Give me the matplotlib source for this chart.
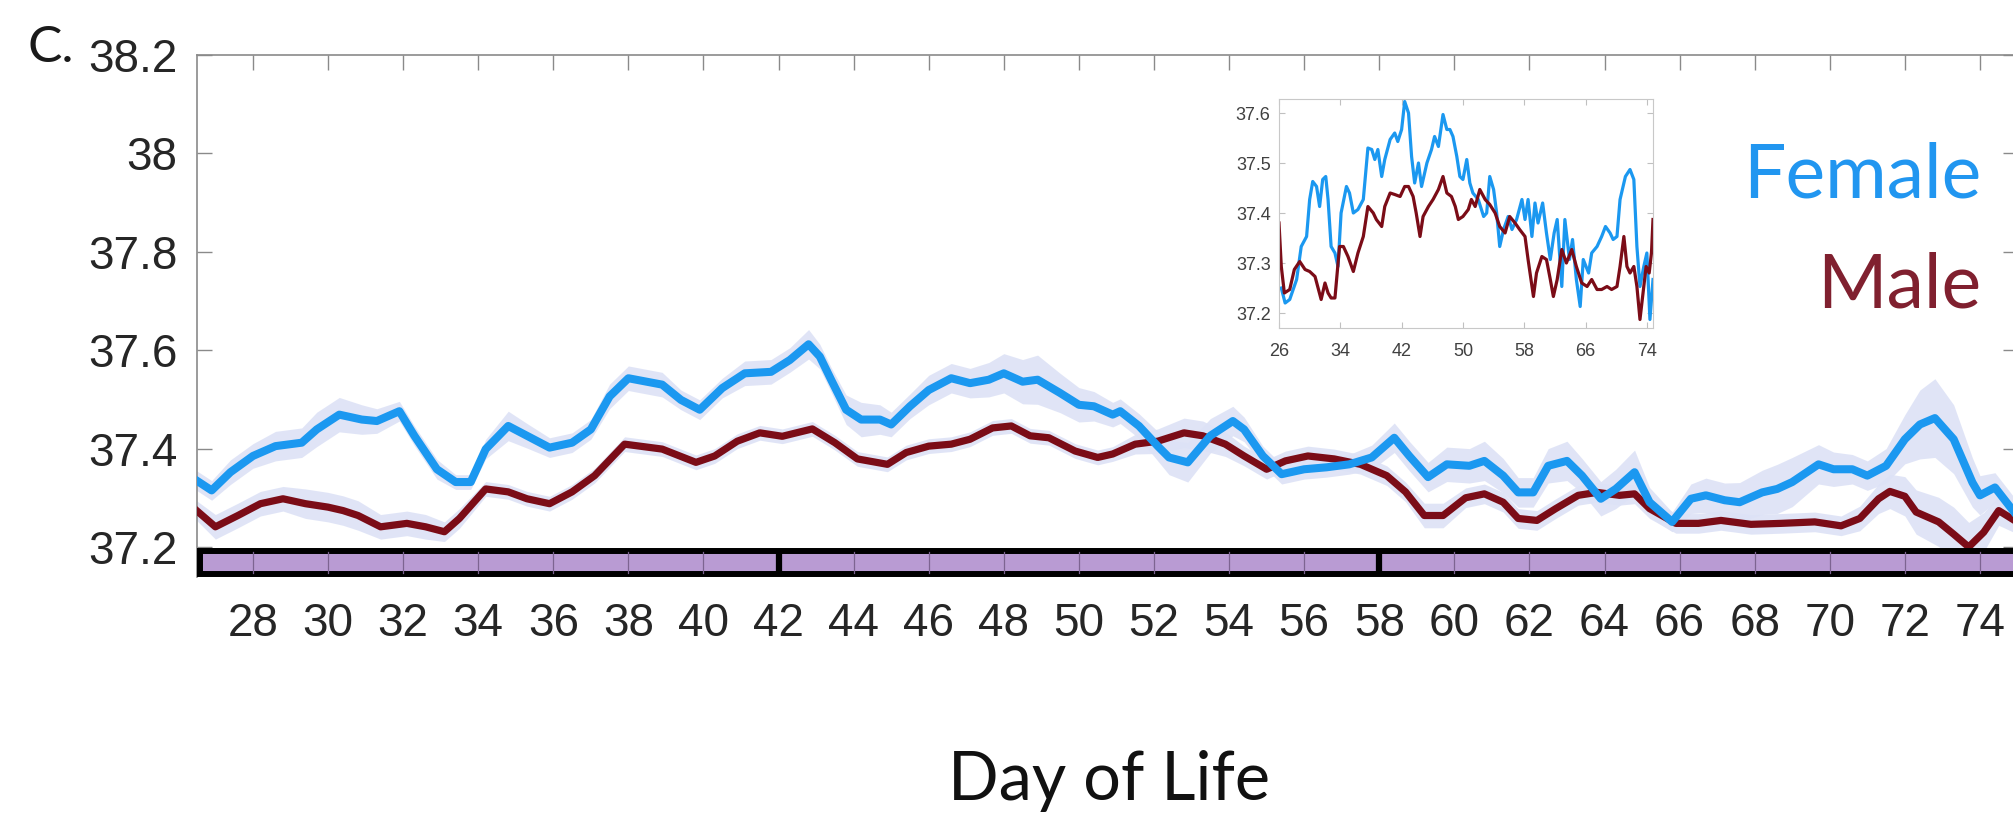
"""
Panel C: core body temperature by day of life, female vs male.
Main plot = smoothed daily means with SEM band, inset = raw (less smoothed) traces.
"""

import matplotlib
matplotlib.use("Agg")
import matplotlib.pyplot as plt
import numpy as np
from matplotlib.patches import Rectangle

# ---- smoothed main traces (day of life, deg C, sem) ----
female_day = [26.5, 26.9, 27.4, 28.0, 28.6, 29.3, 29.7, 30.3, 30.9, 31.3,
              31.9, 32.3, 32.9, 33.4, 33.8, 34.2, 34.8, 35.3, 35.9, 36.5,
              37.0, 37.5, 38.0, 38.9, 39.4, 39.9, 40.5, 41.1, 41.8, 42.3,
              42.8, 43.1, 43.4, 43.8, 44.2, 44.7, 45.0, 45.5, 46.0, 46.6,
              47.1, 47.6, 48.0, 48.5, 48.9, 49.5, 50.0, 50.4, 50.9, 51.1,
              51.6, 52.1, 52.4, 52.9, 53.5, 54.1, 54.4, 54.9, 55.4, 56.0,
              56.6, 57.2, 57.8, 58.4, 58.8, 59.3, 59.8, 60.4, 60.8, 61.3,
              61.7, 62.1, 62.5, 63.0, 63.4, 63.9, 64.3, 64.8, 65.2, 65.8,
              66.3, 66.7, 67.2, 67.6, 68.2, 68.6, 69.0, 69.7, 70.1, 70.6,
              71.0, 71.5, 72.0, 72.4, 72.8, 73.3, 73.8, 74.0, 74.4, 74.9]
female_temp = [37.335, 37.315, 37.352, 37.385, 37.405, 37.412, 37.439, 37.469, 37.459, 37.456,
               37.476, 37.426, 37.358, 37.332, 37.332, 37.399, 37.446, 37.426, 37.402, 37.412,
               37.439, 37.506, 37.543, 37.530, 37.499, 37.479, 37.523, 37.553, 37.556, 37.580,
               37.612, 37.587, 37.540, 37.479, 37.459, 37.459, 37.449, 37.486, 37.519, 37.543,
               37.533, 37.540, 37.553, 37.536, 37.540, 37.513, 37.489, 37.486, 37.469, 37.476,
               37.446, 37.405, 37.382, 37.372, 37.426, 37.456, 37.439, 37.385, 37.348, 37.358,
               37.362, 37.368, 37.382, 37.422, 37.385, 37.342, 37.368, 37.365, 37.375, 37.345,
               37.311, 37.311, 37.365, 37.375, 37.345, 37.298, 37.318, 37.352, 37.291, 37.251,
               37.298, 37.305, 37.295, 37.291, 37.311, 37.318, 37.332, 37.368, 37.358, 37.358,
               37.345, 37.365, 37.419, 37.449, 37.462, 37.419, 37.331, 37.305, 37.321, 37.272]
female_sem = [0.02, 0.02, 0.025, 0.025, 0.03, 0.03, 0.035, 0.035, 0.03, 0.025,
              0.02, 0.02, 0.02, 0.015, 0.015, 0.02, 0.03, 0.025, 0.02, 0.02,
              0.02, 0.025, 0.025, 0.025, 0.02, 0.02, 0.02, 0.025, 0.025, 0.025,
              0.03, 0.025, 0.025, 0.03, 0.035, 0.03, 0.025, 0.025, 0.03, 0.03,
              0.03, 0.035, 0.04, 0.045, 0.05, 0.04, 0.035, 0.03, 0.025, 0.025,
              0.025, 0.03, 0.035, 0.04, 0.035, 0.03, 0.025, 0.02, 0.02, 0.02,
              0.02, 0.02, 0.025, 0.03, 0.03, 0.03, 0.035, 0.035, 0.04, 0.035,
              0.03, 0.03, 0.035, 0.04, 0.035, 0.035, 0.04, 0.045, 0.03, 0.02,
              0.03, 0.035, 0.035, 0.04, 0.045, 0.05, 0.05, 0.04, 0.035, 0.03,
              0.03, 0.035, 0.05, 0.07, 0.08, 0.07, 0.05, 0.04, 0.03, 0.03]

male_day = [26.5, 27.0, 27.6, 28.2, 28.8, 29.4, 30.0, 30.4, 30.8, 31.4,
            32.1, 32.6, 33.1, 33.5, 34.2, 34.8, 35.3, 35.9, 36.5, 37.1,
            37.9, 38.9, 39.8, 40.3, 40.9, 41.5, 42.1, 42.9, 43.5, 44.1,
            44.9, 45.4, 46.0, 46.6, 47.1, 47.7, 48.2, 48.7, 49.2, 49.9,
            50.5, 50.9, 51.5, 52.1, 52.8, 53.3, 53.9, 54.4, 55.0, 55.5,
            56.1, 56.8, 57.5, 58.2, 58.7, 59.2, 59.7, 60.3, 60.8, 61.3,
            61.7, 62.2, 62.7, 63.3, 63.8, 64.4, 64.8, 65.2, 65.9, 66.5,
            67.1, 67.9, 68.7, 69.6, 70.3, 70.8, 71.3, 71.6, 72.0, 72.3,
            72.9, 73.3, 73.7, 74.1, 74.5, 74.9]
male_temp = [37.274, 37.241, 37.264, 37.288, 37.298, 37.288, 37.281, 37.274, 37.264, 37.241,
             37.248, 37.241, 37.231, 37.258, 37.318, 37.312, 37.298, 37.288, 37.312, 37.345,
             37.409, 37.399, 37.372, 37.385, 37.415, 37.432, 37.425, 37.440, 37.412, 37.379,
             37.368, 37.392, 37.405, 37.409, 37.419, 37.442, 37.446, 37.426, 37.422, 37.395,
             37.382, 37.389, 37.409, 37.415, 37.432, 37.426, 37.409, 37.385, 37.358, 37.375,
             37.385, 37.379, 37.368, 37.345, 37.312, 37.264, 37.264, 37.300, 37.308, 37.291,
             37.258, 37.254, 37.278, 37.305, 37.311, 37.305, 37.308, 37.278, 37.248, 37.248,
             37.254, 37.246, 37.248, 37.251, 37.243, 37.258, 37.298, 37.313, 37.303, 37.271,
             37.251, 37.226, 37.200, 37.230, 37.274, 37.255]
male_sem = [0.02, 0.025, 0.025, 0.025, 0.025, 0.03, 0.03, 0.03, 0.03, 0.025,
            0.025, 0.025, 0.02, 0.02, 0.015, 0.015, 0.015, 0.015, 0.015, 0.015,
            0.015, 0.015, 0.015, 0.015, 0.015, 0.015, 0.015, 0.015, 0.015, 0.015,
            0.015, 0.015, 0.015, 0.015, 0.015, 0.015, 0.015, 0.015, 0.015, 0.015,
            0.015, 0.015, 0.02, 0.025, 0.03, 0.03, 0.025, 0.02, 0.02, 0.02,
            0.02, 0.02, 0.02, 0.02, 0.02, 0.025, 0.025, 0.02, 0.02, 0.02,
            0.02, 0.02, 0.02, 0.02, 0.02, 0.02, 0.02, 0.02, 0.02, 0.02,
            0.02, 0.02, 0.02, 0.02, 0.02, 0.025, 0.03, 0.035, 0.04, 0.045,
            0.05, 0.055, 0.05, 0.04, 0.03, 0.025]

# ---- inset: raw traces ----
inset_female_day = [26.3, 26.8, 27.4, 28.3, 28.9, 29.6, 30.0, 30.4, 30.9, 31.3,
                    31.7, 32.1, 32.4, 32.8, 33.3, 33.7, 34.1, 34.8, 35.2, 35.7,
                    36.3, 37.0, 37.6, 38.1, 38.5, 38.9, 39.4, 39.8, 40.5, 41.1,
                    41.5, 42.0, 42.4, 42.9, 43.3, 43.7, 44.2, 44.6, 45.3, 45.9,
                    46.3, 46.8, 47.4, 47.9, 48.3, 48.7, 49.2, 49.6, 50.0, 50.5,
                    50.9, 51.3, 52.0, 52.7, 53.1, 53.5, 54.0, 54.4, 54.8, 55.3,
                    55.9, 56.4, 57.0, 57.7, 58.1, 58.5, 59.0, 59.4, 59.8, 60.4,
                    60.9, 61.4, 61.9, 62.3, 62.9, 63.3, 63.9, 64.3, 64.8, 65.3,
                    65.7, 66.4, 66.8, 67.5, 68.1, 68.6, 69.2, 69.6, 70.1, 70.5,
                    71.2, 71.8, 72.3, 72.7, 73.1, 73.6, 74.0, 74.4, 74.8]
inset_female_temp = [37.25, 37.22, 37.227, 37.267, 37.333, 37.353, 37.427, 37.463, 37.453, 37.413,
                     37.467, 37.473, 37.427, 37.333, 37.32, 37.293, 37.40, 37.453, 37.44, 37.40,
                     37.407, 37.427, 37.53, 37.527, 37.507, 37.527, 37.473, 37.507, 37.547, 37.56,
                     37.543, 37.567, 37.623, 37.60, 37.513, 37.46, 37.50, 37.453, 37.50, 37.527,
                     37.553, 37.533, 37.597, 37.567, 37.567, 37.553, 37.513, 37.473, 37.467, 37.507,
                     37.46, 37.44, 37.427, 37.393, 37.40, 37.473, 37.447, 37.40, 37.333, 37.367,
                     37.393, 37.367, 37.387, 37.427, 37.387, 37.427, 37.353, 37.42, 37.38, 37.42,
                     37.36, 37.307, 37.36, 37.387, 37.253, 37.387, 37.307, 37.347, 37.267, 37.213,
                     37.307, 37.28, 37.32, 37.333, 37.353, 37.373, 37.36, 37.347, 37.353, 37.427,
                     37.473, 37.487, 37.467, 37.333, 37.253, 37.293, 37.32, 37.187, 37.267]

inset_male_day = [26.0, 26.3, 26.7, 27.4, 28.0, 28.7, 29.4, 30.0, 30.7, 31.1,
                  31.5, 32.0, 32.4, 32.8, 33.3, 33.9, 34.4, 35.0, 35.7, 36.3,
                  37.0, 37.6, 38.3, 38.7, 39.4, 39.8, 40.5, 41.1, 41.8, 42.4,
                  42.9, 43.5, 43.9, 44.4, 44.8, 45.5, 46.1, 46.8, 47.4, 47.9,
                  48.5, 49.0, 49.4, 50.0, 50.7, 51.1, 51.6, 52.2, 52.9, 53.5,
                  54.2, 54.8, 55.5, 56.1, 56.8, 57.4, 58.1, 58.5, 59.2, 59.6,
                  60.3, 60.9, 61.4, 61.8, 62.3, 62.9, 63.5, 64.2, 64.8, 65.5,
                  66.2, 66.8, 67.5, 68.1, 68.8, 69.4, 70.1, 70.5, 71.0, 71.4,
                  71.8, 72.3, 72.7, 73.1, 73.5, 73.9, 74.3, 74.6, 74.8]
inset_male_temp = [37.38, 37.293, 37.24, 37.247, 37.287, 37.303, 37.287, 37.283, 37.273, 37.25,
                   37.227, 37.26, 37.24, 37.23, 37.23, 37.333, 37.333, 37.313, 37.283, 37.32,
                   37.353, 37.413, 37.40, 37.387, 37.373, 37.413, 37.44, 37.437, 37.433, 37.453,
                   37.453, 37.433, 37.40, 37.353, 37.393, 37.413, 37.427, 37.447, 37.473, 37.44,
                   37.433, 37.413, 37.387, 37.393, 37.407, 37.427, 37.413, 37.447, 37.427, 37.417,
                   37.40, 37.373, 37.36, 37.393, 37.38, 37.367, 37.353, 37.307, 37.233, 37.28,
                   37.313, 37.307, 37.267, 37.233, 37.267, 37.327, 37.30, 37.327, 37.293, 37.26,
                   37.253, 37.267, 37.247, 37.247, 37.253, 37.247, 37.253, 37.293, 37.353, 37.293,
                   37.28, 37.293, 37.253, 37.187, 37.24, 37.293, 37.28, 37.32, 37.387]

x_ticks = list(range(28, 75, 2))
y_ticks = [37.2, 37.4, 37.6, 37.8, 38.0, 38.2]
y_ticklabels = ["37.2", "37.4", "37.6", "37.8", "38", "38.2"]
inset_x_ticks = [26, 34, 42, 50, 58, 66, 74]
inset_y_ticks = [37.2, 37.3, 37.4, 37.5, 37.6]
phase_days = [42, 58]  # thick black dividers in the bar

FEMALE_C = "#1b98f0"
MALE_C = "#7b0c17"
BAND_C = "#dde2f6"
BAR_C = "#b99bd3"
TICK_FONT = "Liberation Sans"
TEXT_FONT = "Lato"

W, H = 2013, 813
fig = plt.figure(figsize=(W / 100, H / 100), dpi=100)

ax = fig.add_axes([197 / W, 1 - 577 / H, (2017.5 - 197) / W, (577 - 55) / H])
x0, x1 = 26.51, 75.0
ax.set_xlim(x0, x1)
ax.set_ylim(37.139, 38.2)

f_t, f_s = np.array(female_temp), np.array(female_sem)
m_t, m_s = np.array(male_temp), np.array(male_sem)
ax.fill_between(male_day, m_t - m_s, m_t + m_s, color=BAND_C, lw=0, alpha=0.9, zorder=1)
ax.fill_between(female_day, f_t - f_s, f_t + f_s, color=BAND_C, lw=0, alpha=0.9, zorder=1)
ax.plot(male_day, m_t, color=MALE_C, lw=5.2, solid_joinstyle="round", zorder=3)
ax.plot(female_day, f_t, color=FEMALE_C, lw=5.8, solid_joinstyle="round", zorder=4)

# light/dark bar along the bottom
ax.add_patch(Rectangle((26.59, 37.145), x1 + 1 - 26.59, 37.192 - 37.145,
                       facecolor=BAR_C, edgecolor="black", lw=4.3, zorder=5, clip_on=False))
for d in x_ticks:
    if d in phase_days:
        ax.plot([d, d], [37.145, 37.192], color="black", lw=4.5, zorder=6, solid_capstyle="butt")
    else:
        ax.plot([d, d], [37.147, 37.190], color="#7d6491", lw=0.9, zorder=6)

ax.set_xticks(x_ticks)
ax.set_yticks(y_ticks)
ax.set_yticklabels(y_ticklabels)
ax.tick_params(axis="x", bottom=False, top=True, direction="in", length=11, width=1,
               color="#8a8a8a", labelsize=33, labelcolor="#262626", pad=18)
ax.tick_params(axis="y", left=True, right=True, direction="in", length=11, width=1,
               color="#8a8a8a", labelsize=33, labelcolor="#262626", pad=14)
for lab in ax.get_xticklabels() + ax.get_yticklabels():
    lab.set_fontfamily(TICK_FONT)
for side in ["top", "left", "right"]:
    ax.spines[side].set_color("#8a8a8a")
    ax.spines[side].set_linewidth(1.2)
ax.spines["bottom"].set_visible(False)

# inset
axin = fig.add_axes([1279 / W, 1 - 328 / H, 374 / W, 229 / H])
axin.plot(inset_female_day, inset_female_temp, color=FEMALE_C, lw=2.3)
axin.plot(inset_male_day, inset_male_temp, color=MALE_C, lw=2.3)
axin.set_xlim(26, 74.8)
axin.set_ylim(37.17, 37.628)
axin.set_xticks(inset_x_ticks)
axin.set_yticks(inset_y_ticks)
axin.set_yticklabels([f"{v:.1f}" for v in inset_y_ticks])
axin.tick_params(axis="both", direction="in", length=4, width=0.8, color="#c0c0c0",
                 labelsize=13, labelcolor="#404040", top=True, right=True)
axin.tick_params(axis="x", pad=11)
axin.tick_params(axis="y", pad=6)
for lab in axin.get_xticklabels() + axin.get_yticklabels():
    lab.set_fontfamily(TICK_FONT)
for sp in axin.spines.values():
    sp.set_color("#c8c8c8")
    sp.set_linewidth(0.8)

fig.text(28 / W, 1 - 62 / H, "C.", fontfamily=TEXT_FONT, fontsize=37, va="baseline", color="#1a1a1a")
fig.text(1109 / W, 1 - 800 / H, "Day of Life", fontfamily=TEXT_FONT, fontsize=48,
         ha="center", va="baseline", color="#111111")
fig.text(1981 / W, 1 - 197 / H, "Female", fontfamily=TEXT_FONT, fontsize=54,
         ha="right", va="baseline", color="#2196f0")
fig.text(1981 / W, 1 - 307 / H, "Male", fontfamily=TEXT_FONT, fontsize=54,
         ha="right", va="baseline", color="#80202f")

fig.savefig("out.png", dpi=100)
